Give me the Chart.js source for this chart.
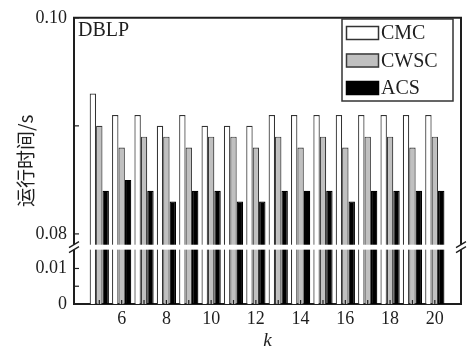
<!DOCTYPE html>
<html>
<head>
<meta charset="utf-8">
<script src="https://cdn.jsdelivr.net/npm/chart.js@4.4.1/dist/chart.umd.min.js"></script>
<style>
  html, body { margin: 0; padding: 0; background: #fff; }
  #wrap { width: 472px; height: 350px; }
</style>
</head>
<body>
<div id="wrap"><canvas id="timeChart" width="472" height="350"></canvas></div>
<script>
const kValues = [5, 6, 7, 8, 9, 10, 11, 12, 13, 14, 15, 16, 17, 18, 19, 20];
const cmcTimes = [0.093, 0.091, 0.091, 0.090, 0.091, 0.090, 0.090, 0.090, 0.091, 0.091, 0.091, 0.091, 0.091, 0.091, 0.091, 0.091];
const cwscTimes = [0.090, 0.088, 0.089, 0.089, 0.088, 0.089, 0.089, 0.088, 0.089, 0.088, 0.089, 0.088, 0.089, 0.089, 0.088, 0.089];
const acsTimes = [0.084, 0.085, 0.084, 0.083, 0.084, 0.084, 0.083, 0.083, 0.084, 0.084, 0.084, 0.083, 0.084, 0.084, 0.084, 0.084];
const seriesNames = ["CMC", "CWSC", "ACS"];
const yTickValues = [0, 0.01, 0.08, 0.10];
const yTickLabels = ["0", "0.01", "0.08", "0.10"];
const yMinorTicks = [0.005, 0.09];

// broken y axis: 0..LOW_TOP and UP_BOTTOM..0.10 with a small gap between
const LOW_TOP = 0.0153;
const UP_BOTTOM = 0.079;
const LOW_SCALE = 3600;
const UP_SCALE = 10950;
const GAP = 5;

function toAxis(v) {
  if (v <= LOW_TOP) return v * LOW_SCALE;
  if (v >= UP_BOTTOM) return LOW_TOP * LOW_SCALE + GAP + (v - UP_BOTTOM) * UP_SCALE;
  return LOW_TOP * LOW_SCALE + (GAP * (v - LOW_TOP)) / (UP_BOTTOM - LOW_TOP);
}

const serif = "'Liberation Serif', 'Times New Roman', serif";
const ink = "#1e1e1e";

function makeSet(name, values, fill, stroke) {
  return {
    label: name,
    data: kValues.map((k, i) => ({ x: k, y: toAxis(values[i]) })),
    backgroundColor: fill,
    borderColor: stroke,
    borderWidth: 1.2,
    categoryPercentage: 0.86,
    barPercentage: 1,
  };
}

function line(ctx, x1, y1, x2, y2) {
  ctx.beginPath();
  ctx.moveTo(x1, y1);
  ctx.lineTo(x2, y2);
  ctx.stroke();
}

const axisExtras = {
  id: "axisExtras",
  afterDatasetsDraw(chart) {
    const { ctx, chartArea: a } = chart;
    const { x, y } = chart.scales;
    ctx.save();
    ctx.strokeStyle = ink;
    ctx.lineWidth = 1.2;
    kValues.forEach((k) => {
      const px = x.getPixelForValue(k);
      line(ctx, px, a.bottom, px, a.bottom - 4);
    });
    yTickValues.concat(yMinorTicks).forEach((v) => {
      const py = y.getPixelForValue(toAxis(v));
      line(ctx, a.left, py, a.left + 5, py);
    });

    // frame top and right
    ctx.lineWidth = 2;
    line(ctx, a.left - 1, a.top, a.right + 1, a.top);
    line(ctx, a.right, a.top, a.right, a.bottom);

    // break band
    const yLow = y.getPixelForValue(LOW_TOP * LOW_SCALE);
    const yUp = y.getPixelForValue(toAxis(UP_BOTTOM));
    ctx.fillStyle = "#fff";
    ctx.fillRect(a.left - 2, yUp, a.right - a.left + 4, yLow - yUp);
    const mid = (yLow + yUp) / 2;
    ctx.lineWidth = 1.3;
    [a.left, a.right].forEach((cx) => {
      line(ctx, cx - 5, mid + 0.5, cx + 5, mid - 5.5);
      line(ctx, cx - 5, mid + 5.5, cx + 5, mid - 0.5);
    });
    ctx.restore();
  },
  afterDraw(chart) {
    const { ctx } = chart;
    ctx.save();
    ctx.fillStyle = "#fff";
    ctx.fillRect(342, 19, 111, 82);
    ctx.strokeStyle = "#333";
    ctx.lineWidth = 1.5;
    ctx.strokeRect(342, 19, 111, 82);
    ctx.font = "20px " + serif;
    ctx.textBaseline = "middle";
    chart.data.datasets.forEach((ds, i) => {
      const top = 26 + i * 27.5;
      ctx.fillStyle = ds.backgroundColor;
      ctx.fillRect(346, top, 33, 14);
      ctx.strokeStyle = ds.borderColor;
      ctx.lineWidth = 1.5;
      ctx.strokeRect(346.5, top + 0.5, 32, 13);
      ctx.fillStyle = ink;
      ctx.fillText(ds.label, 381, top + 8);
    });
    ctx.fillText("DBLP", 78, 31);
    ctx.restore();
  },
};

const chart = new Chart(document.getElementById("timeChart"), {
  type: "bar",
  data: {
    datasets: [
      makeSet(seriesNames[0], cmcTimes, "#ffffff", "#333333"),
      makeSet(seriesNames[1], cwscTimes, "#c0c0c0", "#3a3a3a"),
      makeSet(seriesNames[2], acsTimes, "#000000", "#000000"),
    ],
  },
  options: {
    responsive: false,
    animation: false,
    layout: { padding: { top: 14, right: 11, left: 0, bottom: 0 } },
    plugins: {
      legend: { display: false },
      tooltip: { enabled: false },
    },
    scales: {
      x: {
        type: "linear",
        min: 4.41,
        max: 20.63,
        grid: { display: false, drawTicks: false },
        border: { color: ink, width: 2 },
        afterBuildTicks: (s) => {
          s.ticks = kValues.map((v) => ({ value: v }));
        },
        afterFit: (s) => {
          s.height = 46;
        },
        ticks: {
          autoSkip: false,
          maxRotation: 0,
          padding: 4,
          color: ink,
          font: { family: serif, size: 18 },
          callback: (v) => (v % 2 === 0 ? String(v) : ""),
        },
        title: {
          display: true,
          text: "k",
          color: ink,
          font: { family: serif, size: 19, style: "italic", lineHeight: 1 },
          padding: { top: -2, bottom: 0 },
        },
      },
      y: {
        type: "linear",
        min: 0,
        max: toAxis(0.10),
        grid: { display: false, drawTicks: false },
        border: { color: ink, width: 2 },
        afterBuildTicks: (s) => {
          s.ticks = yTickValues.map((v) => ({ value: toAxis(v) }));
        },
        afterFit: (s) => {
          s.width = 74;
        },
        ticks: {
          autoSkip: false,
          padding: 7,
          color: ink,
          font: { family: serif, size: 18 },
          callback: (v, i) => yTickLabels[i],
        },
        title: {
          display: true,
          text: "运行时间/s",
          color: ink,
          font: { family: "'Noto Sans CJK SC', sans-serif", size: 19 },
          padding: { top: 14, bottom: 0 },
        },
      },
    },
  },
  plugins: [axisExtras],
});
</script>
</body>
</html>
